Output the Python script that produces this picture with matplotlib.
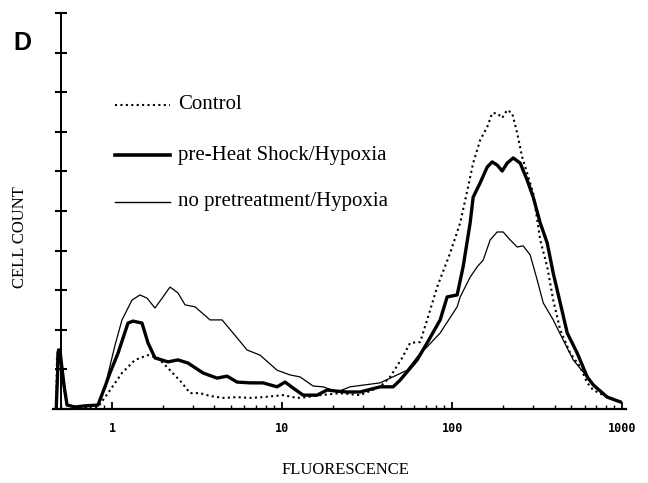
import numpy as np
import matplotlib
matplotlib.use("Agg")
import matplotlib.pyplot as plt
from matplotlib.ticker import LogLocator, NullFormatter, FixedLocator

# fluorescencia (eixo x, log) e contagem de celulas (eixo y, unidades de tick)
fl_control = [0.47, 0.475, 0.494, 0.508, 0.522, 0.544, 0.606, 0.694, 0.827, 0.947,
              1.145, 1.366, 1.628, 1.865, 2.194, 2.581, 2.876, 3.294, 3.771, 4.498,
              5.436, 6.484, 7.731, 10.14, 12.25, 14.03, 16.73, 21.94, 28.76, 37.72,
              43.18, 50.80, 56.61, 64.84, 71.29, 81.63, 97.32, 111.5, 122.5, 132.9,
              146.1, 160.7, 171.9, 183.9, 196.9, 210.6, 225.4, 241.2, 258.1, 276.1,
              299.6, 329.4, 362.2, 392.9, 431.9, 494.5, 566.2, 622.6, 675.2, 816.2, 973.2]
cc_control = [0, 1.36, 1.36, 0.98, 0.53, 0.10, 0.05, 0.05, 0.05, 0.40,
              0.91, 1.24, 1.36, 1.29, 0.98, 0.66, 0.40, 0.40, 0.33, 0.28,
              0.30, 0.28, 0.30, 0.35, 0.28, 0.30, 0.35, 0.40, 0.35, 0.56,
              0.81, 1.29, 1.67, 1.69, 2.25, 3.08, 3.94, 4.70, 5.50, 6.21,
              6.79, 7.12, 7.47, 7.47, 7.35, 7.55, 7.47, 6.97, 6.36, 5.96,
              5.45, 4.27, 3.59, 2.75, 2.00, 1.41, 1.06, 0.66, 0.48, 0.30, 0.18]

fl_heat = [0.47, 0.485, 0.494, 0.508, 0.522, 0.544, 0.606, 0.694, 0.827, 0.909,
           0.973, 1.085, 1.242, 1.329, 1.501, 1.628, 1.79, 2.135, 2.444, 2.80,
           3.43, 4.147, 4.748, 5.436, 6.484, 7.731, 9.345, 10.41, 11.61, 13.29,
           16.07, 18.40, 21.06, 24.12, 28.76, 37.72, 44.97, 49.45, 62.26, 71.29,
           85.02, 93.45, 107.0, 116.0, 127.6, 132.9, 146.1, 160.7, 171.9, 183.9,
           196.9, 210.6, 228.5, 251.2, 276.1, 299.6, 329.4, 362.2, 392.9, 431.9,
           474.9, 543.7, 622.6, 675.2, 816.2, 973.2]
cc_heat = [0, 1.49, 1.49, 1.04, 0.61, 0.10, 0.05, 0.08, 0.10, 0.56,
           0.91, 1.41, 2.17, 2.22, 2.17, 1.67, 1.29, 1.19, 1.24, 1.16,
           0.91, 0.78, 0.83, 0.68, 0.66, 0.66, 0.56, 0.68, 0.53, 0.35,
           0.35, 0.48, 0.45, 0.43, 0.43, 0.56, 0.56, 0.73, 1.24, 1.67,
           2.25, 2.83, 2.88, 3.59, 4.70, 5.35, 5.71, 6.11, 6.24, 6.16,
           6.01, 6.21, 6.34, 6.21, 5.78, 5.35, 4.70, 4.19, 3.43, 2.68,
           1.92, 1.41, 0.81, 0.61, 0.30, 0.18]

fl_nopre = [0.47, 0.475, 0.494, 0.508, 0.522, 0.544, 0.606, 0.694, 0.827, 0.909,
            1.04, 1.145, 1.311, 1.461, 1.607, 1.79, 1.995, 2.194, 2.444, 2.688,
            3.078, 3.771, 4.437, 5.15, 6.226, 7.424, 9.345, 11.14, 12.76, 15.22,
            17.43, 21.06, 25.12, 37.72, 54.36, 64.84, 71.29, 85.02, 107.0, 111.5,
            127.6, 140.3, 152.2, 167.3, 183.9, 199.5, 219.4, 241.2, 261.6, 287.6,
            316.2, 343.1, 392.9, 449.8, 515.0, 622.6, 675.2, 816.2, 973.2]
cc_nopre = [0, 1.44, 1.44, 0.98, 0.53, 0.10, 0.05, 0.08, 0.10, 0.56,
            1.60, 2.25, 2.75, 2.88, 2.80, 2.55, 2.83, 3.08, 2.93, 2.63,
            2.58, 2.25, 2.25, 1.92, 1.49, 1.36, 0.98, 0.86, 0.81, 0.58,
            0.56, 0.43, 0.56, 0.66, 0.98, 1.41, 1.57, 1.92, 2.58, 2.83,
            3.33, 3.59, 3.76, 4.27, 4.47, 4.47, 4.27, 4.09, 4.12, 3.89,
            3.26, 2.68, 2.25, 1.74, 1.24, 0.81, 0.61, 0.30, 0.18]

labels = ["Control", "pre-Heat Shock/Hypoxia", "no pretreatment/Hypoxia"]
xticks = [1, 10, 100, 1000]
xticklabels = ["1", "10", "100", "1000"]

serif = ["Liberation Serif", "DejaVu Serif"]


def main():
    fig = plt.figure(figsize=(6.48, 4.83), dpi=100)
    ax = fig.add_axes([0.0818, 0.1532, 0.884, 0.8199])

    ax.plot(fl_control, cc_control, color="black", lw=1.5, ls=(0, (1, 1.6)))
    ax.plot(fl_heat, cc_heat, color="black", lw=2.4, solid_joinstyle="round")
    ax.plot(fl_nopre, cc_nopre, color="black", lw=0.9)

    ax.set_xscale("log")
    ax.set_xlim(0.45, 1050)
    ax.set_ylim(0, 10)

    #eixos
    for s in ["top", "right"]:
        ax.spines[s].set_visible(False)
    ax.spines["left"].set_position(("data", 0.5))
    ax.spines["left"].set_linewidth(1.4)
    ax.spines["bottom"].set_linewidth(1.6)

    ax.yaxis.set_major_locator(FixedLocator(np.arange(0, 11)))
    ax.set_yticklabels([])
    ax.tick_params(axis="y", direction="inout", length=8, width=1.5)

    ax.xaxis.set_major_locator(FixedLocator(xticks))
    ax.set_xticklabels(xticklabels, fontfamily="DejaVu Sans Mono",
                       fontweight="bold", fontsize=8.5)
    ax.xaxis.set_minor_locator(LogLocator(base=10, subs=np.arange(2, 10)))
    ax.xaxis.set_minor_formatter(NullFormatter())
    ax.tick_params(axis="x", which="major", direction="in", length=5, width=1.3, pad=9)
    ax.tick_params(axis="x", which="minor", direction="in", length=3, width=1.0)

    #legenda feita a mao
    ys = [0.768, 0.641, 0.523]
    styles = [dict(lw=1.5, ls=(0, (1, 1.6))), dict(lw=2.6), dict(lw=1.0)]
    for yy, lab, st in zip(ys, labels, styles):
        ax.plot([0.108, 0.204], [yy, yy], color="black", transform=ax.transAxes,
                clip_on=False, **st)
        ax.text(0.218, yy, lab, transform=ax.transAxes, va="center", ha="left",
                fontsize=15, family=serif)

    fig.text(0.034, 0.91, "D", fontsize=18, fontweight="bold",
             family=["Liberation Sans", "DejaVu Sans"], ha="center", va="center")
    fig.text(0.031, 0.51, "CELL COUNT", rotation=90, fontsize=12, family=serif,
             ha="center", va="center")
    fig.text(0.533, 0.027, "FLUORESCENCE", fontsize=12, family=serif,
             ha="center", va="center")

    fig.savefig("out.png", dpi=100)


if __name__ == "__main__":
    main()
